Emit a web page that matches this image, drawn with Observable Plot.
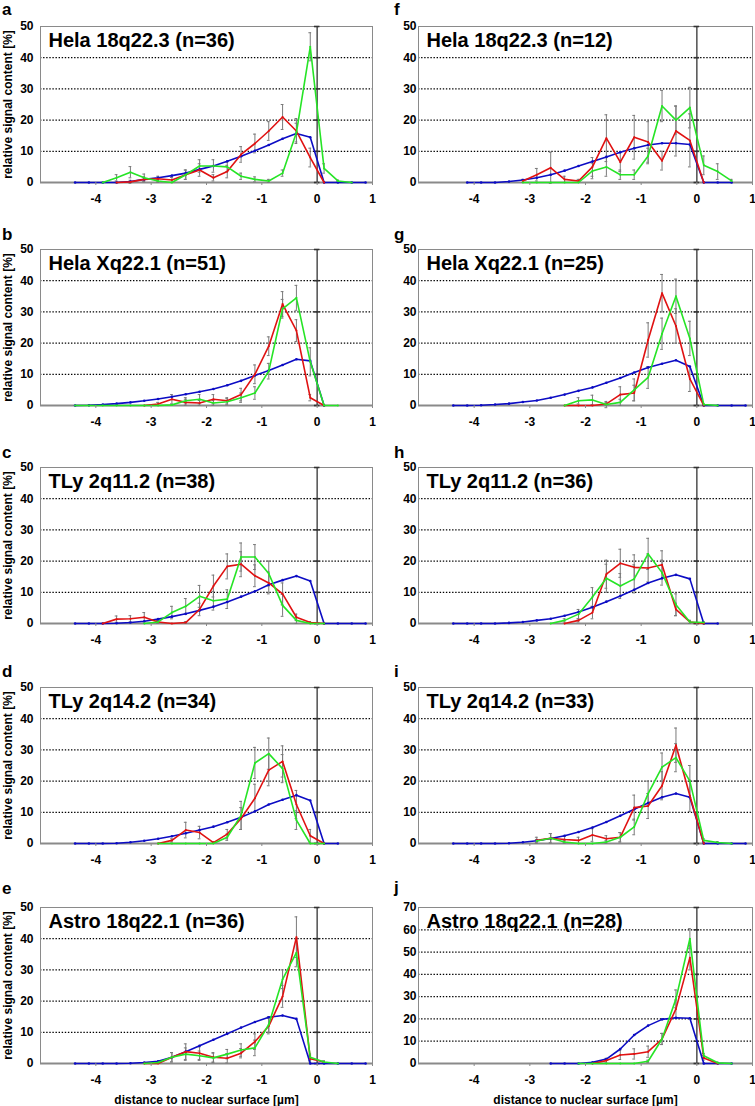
<!DOCTYPE html>
<html><head><meta charset="utf-8">
<script src="https://cdn.jsdelivr.net/npm/d3@7"></script>
<script src="https://cdn.jsdelivr.net/npm/@observablehq/plot@0.6"></script>
<style>
body{margin:0;background:#fff;font-family:"Liberation Sans",Arial,sans-serif;}
#root{position:relative;width:755px;height:1106px;overflow:hidden;background:#fff}
.panel{position:absolute}
.letter{position:absolute;font-weight:bold;font-size:17px;line-height:normal;color:#000;font-family:"Liberation Sans",Arial,sans-serif}
</style></head><body><div id="root"></div>
<script>
// ---------- data ----------
const xBins = [-4.375,-4.125,-3.875,-3.625,-3.375,-3.125,-2.875,-2.625,-2.375,-2.125,-1.875,-1.625,-1.375,-1.125,-0.875,-0.625,-0.375,-0.125,0.125,0.375,0.625,0.875];
const xTicks = [-4,-3,-2,-1,0,1];
const yTicks50 = [0,10,20,30,40,50];
const yTicks70 = [0,10,20,30,40,50,60,70];
const letters = ["a","b","c","d","e","f","g","h","i","j"];
const titles = ["Hela 18q22.3 (n=36)","Hela Xq22.1 (n=51)","TLy 2q11.2 (n=38)","TLy 2q14.2 (n=34)","Astro 18q22.1 (n=36)",
                "Hela 18q22.3 (n=12)","Hela Xq22.1 (n=25)","TLy 2q11.2 (n=36)","TLy 2q14.2 (n=33)","Astro 18q22.1 (n=28)"];
const yLabel = "relative signal content [%]";
const xLabel = "distance to nuclear surface [µm]";
const _ = null;

// a
const blueA  = [0,0,0,0,0.3,1,1.5,2.2,3,4.2,5.3,6.8,8.4,10.2,12,14,15.7,14.5,0,0,0,0];
const redA   = [_,_,_,0,0.2,1,1.2,0.8,2.5,4,1.5,3.5,9,12.5,16.5,21,16.5,8,0,_,_,_];
const greenA = [_,_,0,1.5,3.3,1.5,0.5,0,2.5,5.3,5.3,5,2,1,0.5,3,16,43.5,4.5,0.5,0,_];
const redErrA   = [_,_,_,0,0.5,0.8,0.8,0.8,1.5,2,1,2,2.5,3,3,4,4,3,0,_,_,_];
const greenErrA = [_,_,0,1,1.8,1.2,0.5,0,1.5,2,2,1.5,1,0.8,0.5,1,3,4.5,1.5,0.3,0,_];
// b
const blueB  = [0,0.1,0.3,0.6,1,1.5,2.1,2.8,3.6,4.4,5.3,6.5,7.9,9.6,11.2,13,14.8,14.3,0,_,_,_];
const redB   = [_,_,_,_,_,0,0.5,2,1,0.8,2,1.5,3.5,10,19,32.5,24,2.5,0,_,_,_];
const greenB = [0,0,0,0,0,0,0,0.2,1.5,2,0.8,1.2,2.5,4,11,31,34.5,14,0,0,_,_];
const redErrB   = [_,_,_,_,_,0,0.5,1.5,1,0.8,1.5,1,2,3,3,4,3.5,1,0,_,_,_];
const greenErrB = [0,0,0,0,0,0,0,0.2,1,1.5,0.8,1,1.5,2,2.5,3,4,4.5,0,0,_,_];
// c
const blueC  = [0,0,0,0.1,0.3,0.7,1.4,2.2,3.1,4.2,5.4,6.9,8.6,10.3,12.4,13.9,15.2,13.6,0,0,0,0];
const redC   = [_,_,0,1.4,1.5,2,0.5,0,0.3,4.5,12,18.3,19,15.3,13,9.5,2,0.3,0,_,_,_];
const greenC = [_,_,_,_,_,0,0.5,3.5,5.5,8.7,7.3,7.8,21.3,21.3,16,5.8,1,0,0,_,_,_];
const redErrC   = [_,_,0,1,1,1.5,0.5,0,0.3,2,3.5,4,4,3.5,3.5,3.5,1,0.3,0,_,_,_];
const greenErrC = [_,_,_,_,_,0,0.5,2,2.5,3.5,3,3,4.5,4,4,3.5,1,0,0,_,_,_];
// d
const blueD  = [0,0,0,0.1,0.4,0.9,1.5,2.3,3.3,4.3,5.4,6.8,8.4,10.3,12.5,14,15.5,13.8,0,0,_,_];
const redD   = [_,_,_,_,_,_,0,1,4.3,3.5,0.3,3,8,14.5,23.5,26.3,12.5,2.5,0,_,_,_];
const greenD = [_,_,_,_,_,_,0,0,0,0,0,2,9,25.8,28.8,24,7.5,0,0,_,_,_];
const redErrD   = [_,_,_,_,_,_,0,0.5,2.5,2,0.3,1.5,3.5,4.5,5,5,4.5,2,0,_,_,_];
const greenErrD = [_,_,_,_,_,_,0,0,0,0,0,1,4.5,5,5,4.5,3,0,0,_,_,_];
// e
const blueE  = [0,0,0,0,0.1,0.3,0.7,2,3.8,5.7,7.6,9.5,11.5,13.3,14.8,15.4,14.3,0,0,0,0,0];
const redE   = [_,_,_,_,_,0,0,2,3.8,3.3,2,1.7,3.3,7,12,21.5,40.5,1.5,0.5,_,_,_];
const greenE = [_,_,_,_,_,0,0.3,2,3,2.5,1.8,3,4.3,5,12.5,27,35.5,2,0.5,0,_,_];
const redErrE   = [_,_,_,_,_,0,0,1.5,2.5,2,1.5,1.5,1.5,2.5,2.5,3.5,6.5,1,0.3,_,_,_];
const greenErrE = [_,_,_,_,_,0,0.2,1.5,2,1.5,1.5,1.5,2,2.5,2.5,3,4.5,1,0.3,0,_,_];
// f
const blueF  = [_,0,0,0,0.3,0.8,1.5,2.5,3.8,5.3,6.7,8.2,9.7,11,12,12.6,12.6,12.2,0,0,0,_];
const redF   = [_,_,_,_,_,0.5,2.5,4.7,1,0.5,5,14.2,6.5,14.5,13,7,16.5,13.5,0,_,_,_];
const greenF = [_,_,_,_,_,0,0,0,0,0,3.7,5,2.5,2.5,8.5,24.5,20,24,5.5,3.5,0.5,_];
const redErrF   = [_,_,_,_,_,0.5,2,5,1,0.5,3,7.5,3,7,6.5,3,8,8.5,0,_,_,_];
const greenErrF = [_,_,_,_,_,0,0,0,0,0,2.5,3,1.5,1.5,2.5,5,4.5,6.5,3,2.5,0.5,_];
// g
const blueG  = [0,0,0.1,0.3,0.6,1.1,1.6,2.5,3.5,4.7,5.8,7.3,8.8,10.6,12.2,13.4,14.5,12.5,0,0,0,0];
const redG   = [_,_,_,_,_,_,_,_,0,0,0,0.5,3.5,4,21,36,25.5,8.5,0,_,_,_];
const greenG = [_,_,_,_,_,_,_,_,0,1.5,1.8,0.3,1,5,9,23,35,21.5,0.3,0,_,_];
const redErrG   = [_,_,_,_,_,_,_,_,0,0,0,0.5,2.5,2.5,5.5,6,5.5,4,0,_,_,_];
const greenErrG = [_,_,_,_,_,_,_,_,0,1,1.5,1,1,3.5,3.5,5,5.5,5.5,0.3,0,_,_];
// h
const blueH  = [0,0,0,0,0.2,0.5,1,1.5,2.5,3.7,5.2,7,8.8,10.8,13,14.5,15.6,14.3,0,0,_,_];
const redH   = [_,_,_,_,_,_,_,_,0,1,3.5,15.8,19.3,18,17.8,18.8,4.5,0.5,0,_,_,_];
const greenH = [_,_,_,_,_,_,_,0,1,3,8.5,14.5,12,14.3,22.3,16.3,6,0.5,0.3,_,_,_];
const redErrH   = [_,_,_,_,_,_,_,_,0,0.5,2,4.5,4.5,4,4.5,4.5,2,0.5,0,_,_,_];
const greenErrH = [_,_,_,_,_,_,_,0,0.5,1.5,3,4.5,4,4.5,5,4,3.5,0.5,0.3,_,_,_];
// i
const blueI  = [0,0,0,0,0.1,0.4,0.9,1.6,2.5,3.7,5.1,6.9,8.9,11,13,14.8,16,14.8,0,0,0,0];
const redI   = [_,_,_,_,_,_,1,1.7,1.3,1,2.7,1.5,2,11.5,12,18.5,31.5,15.3,0,_,_,_];
const greenI = [_,_,_,_,_,_,0.8,1.7,0.5,0,0,0.5,2,5.3,16,24.5,27.5,20,1,0.3,0,_];
const redErrI   = [_,_,_,_,_,_,1,1.5,1,1,2,1,1.5,4,4,4.5,5.5,5,0,_,_,_];
const greenErrI = [_,_,_,_,_,_,0.5,1.5,0.5,0,0,0.5,1.5,2.5,4,4.5,4.5,5,0.5,0.3,0,_];
// j
const blueJ  = [_,_,_,_,_,_,_,0,0,0,0.5,2,6.5,12.8,17,19.8,20.5,20.3,0,0,0,_];
const redJ   = [_,_,_,_,_,_,_,_,_,_,0,1.3,3.8,4.3,5.3,11,24.5,47.5,2.5,0,_,_];
const greenJ = [_,_,_,_,_,_,_,_,_,0,0,0,0,0,1,11,29,56,3.5,0.3,0,_];
const redErrJ   = [_,_,_,_,_,_,_,_,_,_,0,1,2,2.3,2.5,2.5,4,5.5,1,0,_,_];
const greenErrJ = [_,_,_,_,_,_,_,_,_,0,0,0,0,0,0.5,2.5,4,4.5,1,0.3,0,_];

// ---------- layout ----------
const colors = {blue:"#0c0cc4", red:"#e01212", green:"#26e426", err:"#7a7a7a", frame:"#8a8a8a"};
const frameTops = [26,249,467,687,907];
const letterBaselines = [[15.4,240,458,677,894],[15.4,240,458,677,893]];
const letterAscent = 15.4;
const series = [
  [blueA,redA,greenA,redErrA,greenErrA],[blueB,redB,greenB,redErrB,greenErrB],[blueC,redC,greenC,redErrC,greenErrC],
  [blueD,redD,greenD,redErrD,greenErrD],[blueE,redE,greenE,redErrE,greenErrE],
  [blueF,redF,greenF,redErrF,greenErrF],[blueG,redG,greenG,redErrG,greenErrG],[blueH,redH,greenH,redErrH,greenErrH],
  [blueI,redI,greenI,redErrI,greenErrI],[blueJ,redJ,greenJ,redErrJ,greenErrJ]
];

function rows(vals, errs) {
  const out = [];
  vals.forEach((v,i) => { if (v !== null) out.push({x:xBins[i], y:v, e: errs ? (errs[i] ?? 0) : 0}); });
  return out;
}

const root = document.getElementById("root");
const frameH = 156, mTop = 8;

for (let p = 0; p < 10; p++) {
  const col = p < 5 ? 0 : 1, row = p % 5;
  const [bl, rd, gr, rdE, grE] = series[p];
  const yMax = p === 9 ? 70 : 50;
  const yTicks = p === 9 ? yTicks70 : yTicks50;
  const bottom = row === 4;
  const mBottom = bottom ? 48 : 30;
  const width = col === 0 ? 378 : 377;
  const blueData = rows(bl), redData = rows(rd, rdE), greenData = rows(gr, grE);
  const errData = [...redData, ...greenData].filter(d => d.e > 0);

  const chart = Plot.plot({
    width, height: mTop + frameH + mBottom,
    marginTop: mTop, marginBottom: mBottom, marginLeft: 40, marginRight: col === 0 ? 6 : 3,
    style: {background: "transparent", overflow: "visible", fontFamily: "'Liberation Sans', Arial, sans-serif", fontWeight: "bold", fontSize: "12px", color: "#000"},
    x: {domain: [-5, 1]},
    y: {domain: [0, yMax]},
    marks: [
      Plot.ruleY(yTicks.filter(t => t > 0 && t < yMax), {stroke: "#000", strokeDasharray: "1.4,1.7", strokeWidth: 1.2}),
      Plot.frame({stroke: colors.frame, strokeWidth: 1}),
      Plot.ruleY([0], {stroke: colors.frame, strokeWidth: 2}),
      Plot.ruleX([0], {stroke: "#5a5a5a", strokeWidth: 1.6}),
      Plot.ruleY(yTicks, {x1: -0.05, x2: 0.05, stroke: "#333", strokeWidth: 1.6}),
      Plot.ruleX(errData, {x: "x", y1: d => d.y - d.e, y2: d => d.y + d.e, stroke: colors.err, strokeWidth: 1}),
      Plot.ruleY(errData, {y: d => d.y + d.e, x1: d => d.x - 0.025, x2: d => d.x + 0.025, stroke: colors.err, strokeWidth: 1}),
      Plot.ruleY(errData, {y: d => d.y - d.e, x1: d => d.x - 0.025, x2: d => d.x + 0.025, stroke: colors.err, strokeWidth: 1}),
      Plot.line(blueData, {x: "x", y: "y", stroke: colors.blue, strokeWidth: 1.6}),
      Plot.dot(blueData, {x: "x", y: "y", r: 1.3, fill: colors.blue}),
      Plot.line(redData, {x: "x", y: "y", stroke: colors.red, strokeWidth: 1.6}),
      Plot.dot(redData, {x: "x", y: "y", r: 1, fill: colors.red}),
      Plot.line(greenData, {x: "x", y: "y", stroke: colors.green, strokeWidth: 1.6}),
      Plot.dot(greenData, {x: "x", y: "y", r: 1, fill: colors.green}),
      Plot.text([titles[p]], {text: d => d, frameAnchor: "top-left", dx: 8, dy: 6, lineAnchor: "top", textAnchor: "start", fontSize: 20, fontWeight: "bold", fill: "#000"}),
      Plot.axisY({ticks: yTicks, tickSize: 0, tickPadding: col === 0 ? 7 : 2, tickFormat: d => String(d), fontWeight: "bold",
        label: col === 0 ? yLabel : null, labelAnchor: "center", labelArrow: "none", labelOffset: 37}),
      Plot.axisX({ticks: xTicks, tickSize: 3, tickPadding: 9, stroke: colors.frame, tickFormat: d => String(d), fontWeight: "bold",
        label: bottom ? xLabel : null, labelAnchor: "center", labelArrow: "none", labelOffset: 40})
    ]
  });
  const holder = document.createElement("div");
  holder.className = "panel";
  holder.style.left = (col === 0 ? 0 : 378) + "px";
  holder.style.top = (frameTops[row] - mTop) + "px";
  holder.appendChild(chart);
  root.appendChild(holder);

  const lt = document.createElement("div");
  lt.className = "letter";
  lt.textContent = letters[p];
  lt.style.left = (col === 0 ? 2 : 394) + "px";
  lt.style.top = (letterBaselines[col][row] - letterAscent) + "px";
  root.appendChild(lt);
}
</script></body></html>
